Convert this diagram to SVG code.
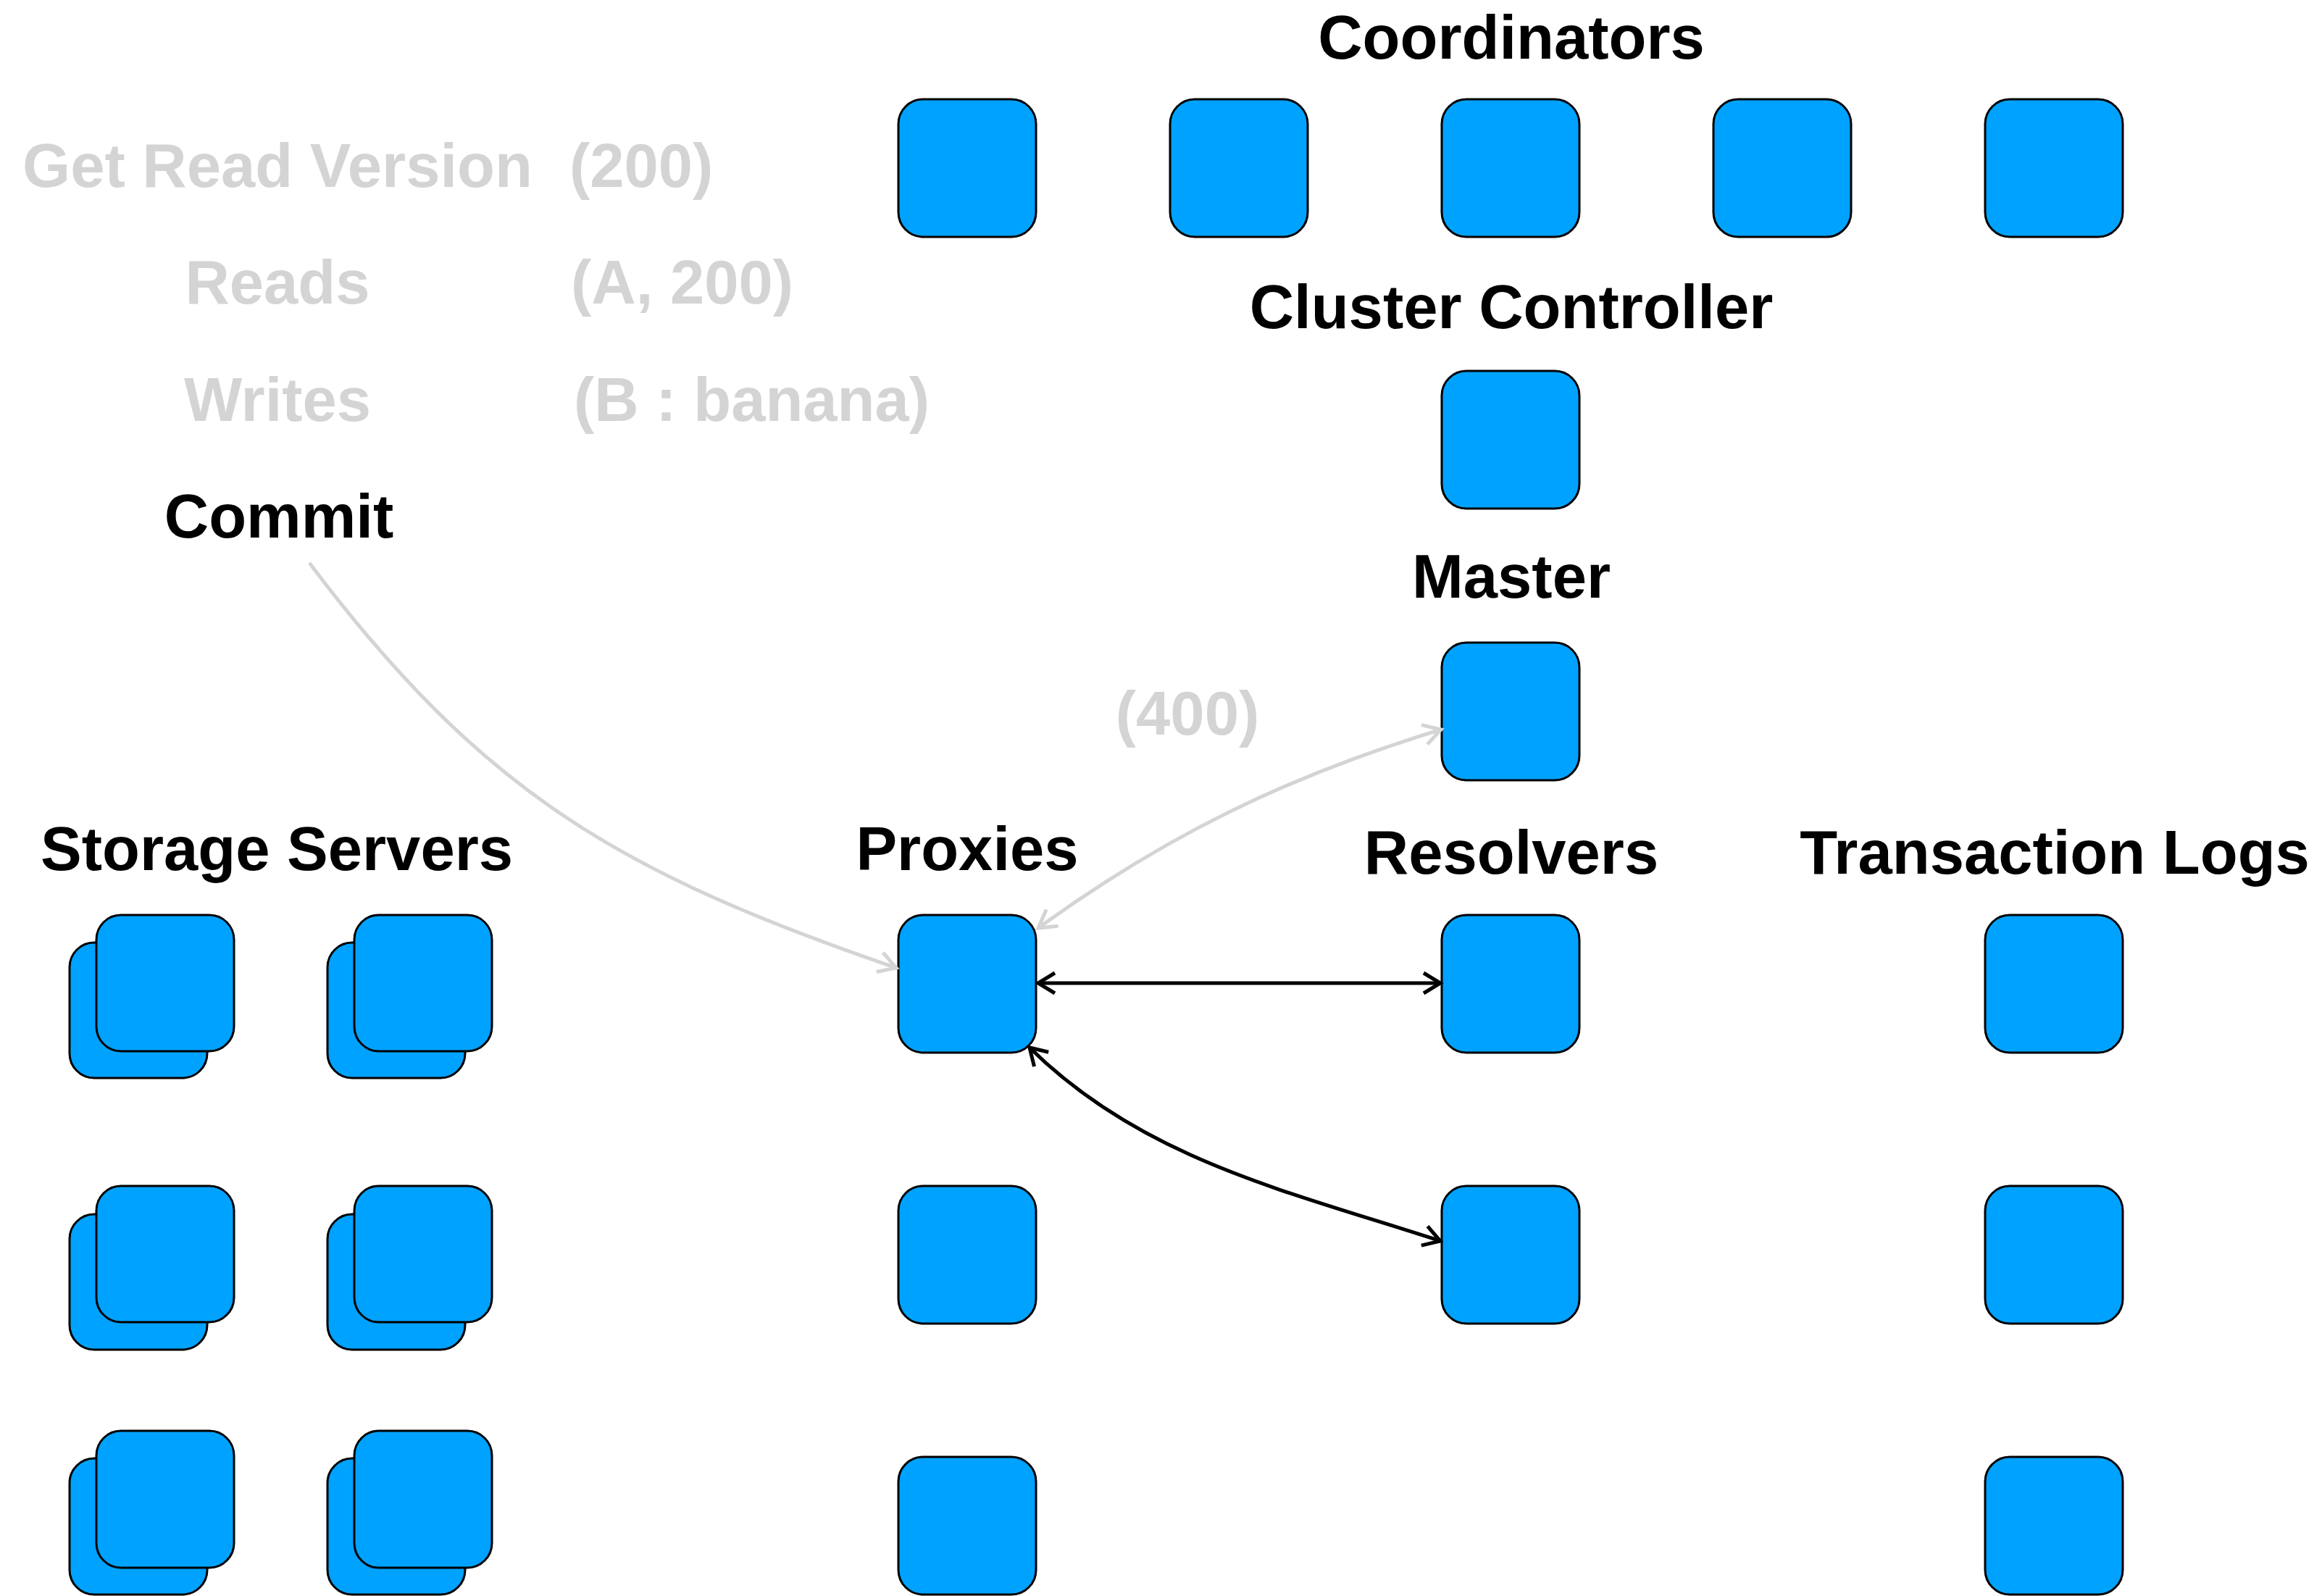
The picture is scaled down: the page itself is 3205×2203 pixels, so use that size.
<svg xmlns="http://www.w3.org/2000/svg" width="3205" height="2203" viewBox="0 0 3205 2203">
  <style>
    .box { fill: #00A2FF; stroke: #000; stroke-width: 3; }
    .lbl { font-family: "Liberation Sans", Arial, Helvetica, sans-serif; font-weight: bold; font-size: 85px; fill: #000; }
    .grey { fill: #D4D4D4; }
    .mid { text-anchor: middle; }
    .conn-black { fill: none; stroke: #000; stroke-width: 5; }
    .conn-grey { fill: none; stroke: #D4D4D4; stroke-width: 5; }
  </style>
  <defs>
    <marker id="ah-black" markerUnits="userSpaceOnUse" markerWidth="60" markerHeight="60" viewBox="-30 -30 60 60" refX="0" refY="0" orient="auto-start-reverse" overflow="visible">
      <path d="M-23,-14 L0,0 L-23,14" fill="none" stroke="#000" stroke-width="5"/>
    </marker>
    <marker id="ah-grey" markerUnits="userSpaceOnUse" markerWidth="60" markerHeight="60" viewBox="-30 -30 60 60" refX="0" refY="0" orient="auto-start-reverse" overflow="visible">
      <path d="M-24,-14 L0,0 L-24,14" fill="none" stroke="#D4D4D4" stroke-width="5"/>
    </marker>
  </defs>
  <rect width="3205" height="2203" fill="#fff"/>

  <!-- Left side transaction text -->
  <g id="transaction-text" class="lbl">
    <text class="grey mid" x="383" y="258">Get Read Version</text>
    <text class="grey" x="786" y="258">(200)</text>
    <text class="grey mid" x="383" y="419">Reads</text>
    <text class="grey" x="788" y="419">(A, 200)</text>
    <text class="grey mid" x="383" y="581">Writes</text>
    <text class="grey" x="792" y="581">(B : banana)</text>
    <text class="mid" x="385" y="742">Commit</text>
  </g>

  <!-- Labels -->
  <g id="labels" class="lbl">
    <text class="mid" x="2086" y="81">Coordinators</text>
    <text class="mid" x="2086" y="453">Cluster Controller</text>
    <text class="mid" x="2086" y="825">Master</text>
    <text class="grey mid" x="1639" y="1014">(400)</text>
    <text class="mid" x="382" y="1201">Storage Servers</text>
    <text class="mid" x="1335" y="1201">Proxies</text>
    <text class="mid" x="2086" y="1206">Resolvers</text>
    <text class="mid" x="2836" y="1206">Transaction Logs</text>
  </g>

  <!-- Coordinators -->
  <g id="coordinator-1"><rect class="box" x="1240" y="137" width="190" height="190" rx="34"/></g>
  <g id="coordinator-2"><rect class="box" x="1615" y="137" width="190" height="190" rx="34"/></g>
  <g id="coordinator-3"><rect class="box" x="1990" y="137" width="190" height="190" rx="34"/></g>
  <g id="coordinator-4"><rect class="box" x="2365" y="137" width="190" height="190" rx="34"/></g>
  <g id="coordinator-5"><rect class="box" x="2740" y="137" width="190" height="190" rx="34"/></g>

  <!-- Cluster controller & master -->
  <g id="cluster-controller"><rect class="box" x="1990" y="512" width="190" height="190" rx="34"/></g>
  <g id="master"><rect class="box" x="1990" y="887" width="190" height="190" rx="34"/></g>

  <!-- Proxies -->
  <g id="proxy-1"><rect class="box" x="1240" y="1263" width="190" height="190" rx="34"/></g>
  <g id="proxy-2"><rect class="box" x="1240" y="1637" width="190" height="190" rx="34"/></g>
  <g id="proxy-3"><rect class="box" x="1240" y="2011" width="190" height="190" rx="34"/></g>

  <!-- Resolvers -->
  <g id="resolver-1"><rect class="box" x="1990" y="1263" width="190" height="190" rx="34"/></g>
  <g id="resolver-2"><rect class="box" x="1990" y="1637" width="190" height="190" rx="34"/></g>

  <!-- Transaction logs -->
  <g id="log-1"><rect class="box" x="2740" y="1263" width="190" height="190" rx="34"/></g>
  <g id="log-2"><rect class="box" x="2740" y="1637" width="190" height="190" rx="34"/></g>
  <g id="log-3"><rect class="box" x="2740" y="2011" width="190" height="190" rx="34"/></g>

  <!-- Storage servers (stacked pairs) -->
  <g id="storage-1-1"><rect class="box" x="96" y="1301" width="190" height="187" rx="34"/><rect class="box" x="133" y="1263" width="190" height="188" rx="34"/></g>
  <g id="storage-1-2"><rect class="box" x="452" y="1301" width="190" height="187" rx="34"/><rect class="box" x="489" y="1263" width="190" height="188" rx="34"/></g>
  <g id="storage-2-1"><rect class="box" x="96" y="1676" width="190" height="187" rx="34"/><rect class="box" x="133" y="1637" width="190" height="188" rx="34"/></g>
  <g id="storage-2-2"><rect class="box" x="452" y="1676" width="190" height="187" rx="34"/><rect class="box" x="489" y="1637" width="190" height="188" rx="34"/></g>
  <g id="storage-3-1"><rect class="box" x="96" y="2013" width="190" height="188" rx="34"/><rect class="box" x="133" y="1975" width="190" height="189" rx="34"/></g>
  <g id="storage-3-2"><rect class="box" x="452" y="2013" width="190" height="188" rx="34"/><rect class="box" x="489" y="1975" width="190" height="189" rx="34"/></g>

  <!-- Connectors -->
  <g id="connectors">
    <path class="conn-grey" d="M427,777 C668,1097 859,1206 1237,1336" marker-end="url(#ah-grey)"/>
    <path class="conn-grey" d="M1433,1281 C1611,1152 1779,1071 1989,1007" marker-start="url(#ah-grey)" marker-end="url(#ah-grey)"/>
    <path class="conn-black" d="M1433,1357 L1988,1357" marker-start="url(#ah-black)" marker-end="url(#ah-black)"/>
    <path class="conn-black" d="M1421,1446 C1578,1601 1780,1645 1988,1713" marker-start="url(#ah-black)" marker-end="url(#ah-black)"/>
  </g>
</svg>
